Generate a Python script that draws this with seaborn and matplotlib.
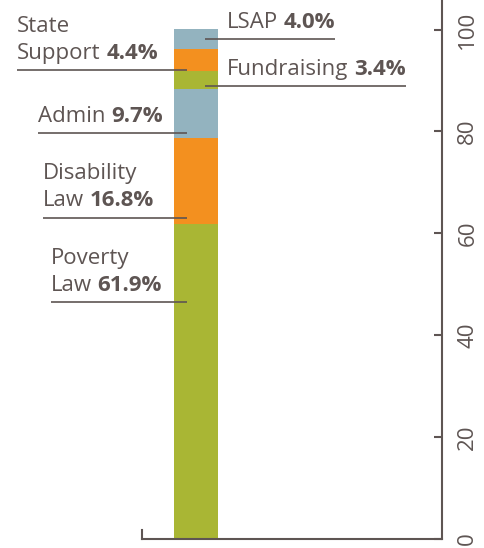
import matplotlib
matplotlib.use("Agg")
import numpy as np
import matplotlib.pyplot as plt
import matplotlib.transforms as mtransforms
import seaborn as sns

# segments, bottom to top
categories = ["Poverty Law", "Disability Law", "Admin", "Fundraising", "State Support", "LSAP"]
shares = [61.9, 16.8, 9.7, 3.4, 4.4, 4.0]
colors = ["#A9B634", "#F3901F", "#93B3BF", "#A9B634", "#F3901F", "#93B3BF"]
y_ticks = [0, 20, 40, 60, 80, 100]

# label text split over two lines
label_first = ["Poverty", "Disability", "", "", "State", ""]
label_second = ["Law", "Law", "Admin", "Fundraising", "Support", "LSAP"]

# label layout: side of the bar, text left edge (figure px), leader line height (data units)
label_side = ["left", "left", "left", "right", "left", "right"]
label_x_px = [51, 43, 38, 227, 17, 227]
line_y = [46.5, 63.1, 79.7, 88.9, 92.0, 98.2]

W, H = 485, 548
ink = "#5E5553"

sns.set_style("white")
plt.rcParams['font.family'] = ['Open Sans', 'DejaVu Sans']

fig = plt.figure(figsize=(W / 100, H / 100), dpi=100)
ax = fig.add_axes([142 / W, 9 / H, 300 / W, 539 / H])

# stacked bar: draw cumulative totals from the top down so each covers the one above
cum = np.cumsum(shares)
for i in reversed(range(len(shares))):
    sns.barplot(x=["Total"], y=[cum[i]], color=colors[i], saturation=1,
                width=0.8, errorbar=None, linewidth=0, edgecolor="none", ax=ax)

ax.set_xlim(-54 / 55, 246 / 55)
ax.set_ylim(0, 105.8)
ax.set_xticks([])
ax.set_xlabel("")
ax.set_ylabel("")

ax.yaxis.tick_right()
ax.set_yticks(y_ticks)
ax.tick_params(axis="y", direction="in", length=6, width=1.5, color=ink,
               pad=11, labelsize=16, labelcolor=ink, labelrotation=90)
for lbl in ax.get_yticklabels():
    lbl.set_fontweight("normal")
    lbl.set_va("center")

for side in ["left", "right", "bottom"]:
    ax.spines[side].set_color(ink)
    ax.spines[side].set_linewidth(1.5)
ax.spines["top"].set_visible(False)
ax.spines["left"].set_bounds(0, 1.8)

# labels with leader lines
fs = 16
trans_fy = mtransforms.blended_transform_factory(fig.transFigure, ax.transData)
base_tr = mtransforms.offset_copy(trans_fy, fig=fig, y=8, units="points")
top_tr = mtransforms.offset_copy(trans_fy, fig=fig, y=8 + 19.4, units="points")

texts = []
for i in range(len(categories)):
    x = label_x_px[i] / W
    t = ax.text(x, line_y[i], label_second[i], transform=base_tr, ha="left",
                va="baseline", fontsize=fs, color=ink, clip_on=False)
    b = ax.annotate(f"{shares[i]:.1f}%", xy=(1, 0), xycoords=t, xytext=(4, 0),
                    textcoords="offset points", ha="left", va="bottom",
                    fontsize=fs, fontweight="bold", color=ink, annotation_clip=False)
    if label_first[i]:
        ax.text(x, line_y[i], label_first[i], transform=top_tr, ha="left",
                va="baseline", fontsize=fs, color=ink, clip_on=False)
    texts.append((t, b))

fig.canvas.draw()
r = fig.canvas.get_renderer()
to_fig = fig.transFigure.inverted()
for i, (t, b) in enumerate(texts):
    if label_side[i] == "left":
        x0 = to_fig.transform(t.get_window_extent(r).p0)[0]
        x1 = to_fig.transform(ax.transData.transform((-0.16, 0)))[0]
    else:
        x0 = to_fig.transform(ax.transData.transform((0.16, 0)))[0]
        x1 = to_fig.transform(b.get_window_extent(r).p1)[0]
    ax.plot([x0, x1], [line_y[i], line_y[i]], transform=trans_fy, color=ink,
            linewidth=1.2, clip_on=False, solid_capstyle="butt")

fig.savefig("out.png", dpi=100)
